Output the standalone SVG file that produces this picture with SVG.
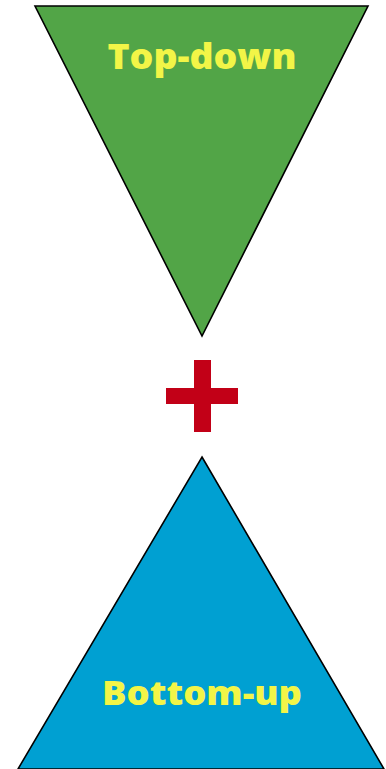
<svg xmlns="http://www.w3.org/2000/svg" width="386" height="769" viewBox="0 0 386 769">
<style>
.tri{stroke:#000;stroke-width:1.6;stroke-linejoin:miter}
.lbl{font-family:"Open Sans","Liberation Sans",sans-serif;font-weight:800;fill:#F2F547;text-anchor:middle}
</style>
<rect width="386" height="769" fill="#fff"/>
<g id="top-down">
<polygon class="tri" points="35,6 368,6 202,336" fill="#52A547"/>
<text class="lbl" x="202" y="69" font-size="36" textLength="189" lengthAdjust="spacingAndGlyphs">Top-down</text>
</g>
<g id="plus">
<rect x="194" y="360" width="17" height="72" fill="#C20017"/>
<rect x="166" y="388" width="72" height="16" fill="#C20017"/>
</g>
<g id="bottom-up">
<polygon class="tri" points="202,457 384,769 18,769" fill="#00A0D2"/>
<text class="lbl" x="202" y="705" font-size="33" textLength="200" lengthAdjust="spacingAndGlyphs">Bottom-up</text>
</g>
</svg>
